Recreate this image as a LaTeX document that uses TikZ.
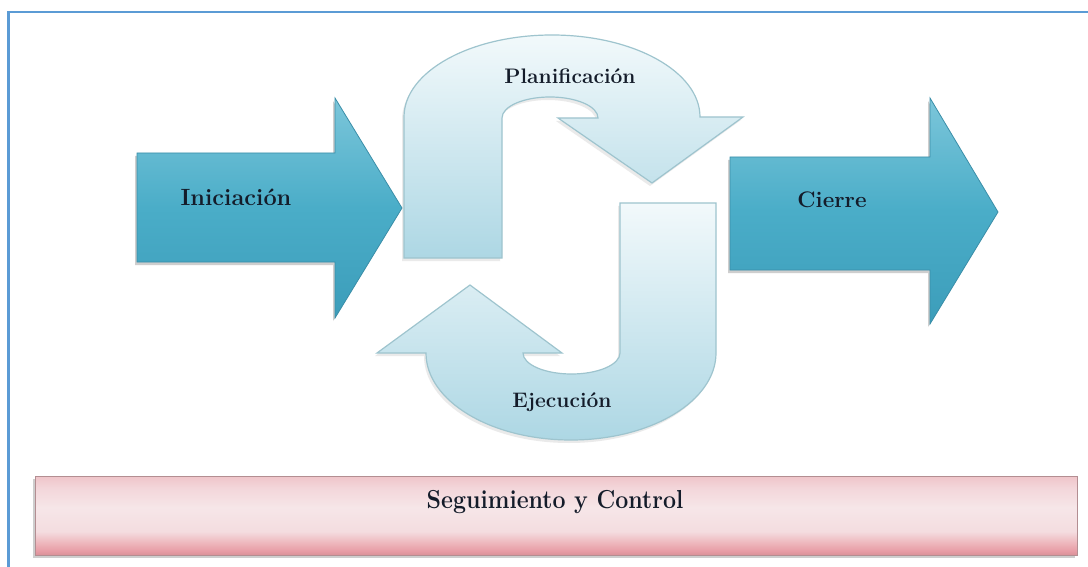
\documentclass[tikz,border=0pt]{standalone}
\usepackage{fontspec}
\definecolor{frameblue}{HTML}{5B9BD5}
\definecolor{bluetop}{HTML}{7CC6DA}
\definecolor{bluemid}{HTML}{4AADC8}
\definecolor{bluebot}{HTML}{3C9DBA}
\definecolor{blueline}{HTML}{3A8EA8}
\definecolor{utop}{HTML}{F2F9FB}
\definecolor{ubot}{HTML}{ADD7E4}
\definecolor{uline}{HTML}{9EC4CE}
\definecolor{pinkline}{HTML}{B38E92}
\definecolor{txt}{HTML}{141C2A}
\definecolor{pkA}{HTML}{D99199}
\definecolor{pkB}{HTML}{E79CA5}
\definecolor{pkC}{HTML}{EDB3B9}
\definecolor{pkD}{HTML}{F4DDE0}
\definecolor{pkE}{HTML}{F6E6E8}
\definecolor{pkF}{HTML}{F3D6DA}
\definecolor{pkG}{HTML}{EFC4C9}
\pgfdeclareverticalshading{pinkbar}{100bp}{%
  color(0bp)=(pkA); color(25bp)=(pkA); color(27.5bp)=(pkB); color(32bp)=(pkC);
  color(40bp)=(pkD); color(55bp)=(pkE); color(67.5bp)=(pkF);
  color(75bp)=(pkG); color(100bp)=(pkG)}
\tikzset{
  bluearrow/.style={top color=bluetop, bottom color=bluebot, middle color=bluemid, draw=blueline, line width=0.8pt},
  uarrow/.style={top color=utop, bottom color=ubot, draw=uline, line width=1.2pt},
  shadowfill/.style={fill=black!55, opacity=0.35},
  lbl/.style={text=txt, font=\bfseries, inner sep=0pt}
}
\newcommand\pathIni{(137,153) -- (335,153) -- (335,98) -- (402,208) -- (335,318) -- (335,262) -- (137,262) -- cycle}
\newcommand\pathCie{(730,157) -- (930,157) -- (930,98) -- (998,212) -- (930,324) -- (930,270) -- (730,270) -- cycle}
\newcommand\pathPla{(404,258) -- (404,117) arc[start angle=180, end angle=360, x radius=148, y radius=82] -- (743,117) -- (652,183) -- (558,118) -- (598,118) arc[start angle=0, end angle=-180, x radius=48, y radius=21] -- (502,258) -- cycle}
\newcommand\pathEje{(620,203) -- (716,203) -- (716,353) arc[start angle=0, end angle=180, x radius=145, y radius=87] -- (377,353) -- (470,285) -- (562,353) -- (523,353) arc[start angle=180, end angle=0, x radius=48.5, y radius=21] -- cycle}
\begin{document}
\begin{tikzpicture}[x=1pt,y=-1pt]
\useasboundingbox (0,0) rectangle (1088,567);
\fill[white] (0,0) rectangle (1088,567);
% frame
\draw[frameblue, line width=2.2pt] (8.5,567) -- (8.5,12) -- (1088,12);
% shadows
\begin{scope}[shift={(-2,3)}]
  \fill[shadowfill] \pathIni;
  \fill[shadowfill] \pathCie;
  \fill[shadowfill, opacity=0.15] \pathPla;
  \fill[shadowfill, opacity=0.15] \pathEje;
  \fill[shadowfill] (35,476) rectangle (1077,555);
\end{scope}
% arrows
\path[bluearrow] \pathIni;
\path[bluearrow] \pathCie;
\path[uarrow] \pathPla;
\path[uarrow] \pathEje;
% bar
\path[shading=pinkbar, draw=pinkline, line width=0.8pt] (35,476) rectangle (1077,555);
% labels
\node[lbl, font=\fontsize{23.5}{26}\selectfont\bfseries] (ini) at (236,197) {Iniciación};
\node[lbl, font=\fontsize{22.5}{26}\selectfont\bfseries] (cie) at (832,200) {Cierre};
\node[lbl, font=\fontsize{21}{24}\selectfont\bfseries] (pla) at (570,76) {Planificación};
\node[lbl, font=\fontsize{21}{24}\selectfont\bfseries] (eje) at (562,402) {Ejecución};
\node[lbl, font=\fontsize{26}{28}\selectfont\bfseries, xscale=0.89] (seg) at (555,502) {Seguimiento y Control};
\end{tikzpicture}
\end{document}
